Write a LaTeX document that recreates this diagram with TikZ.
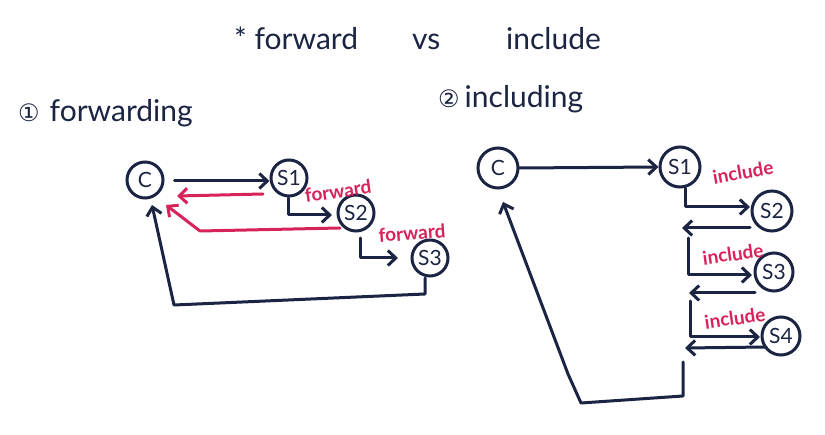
\documentclass[tikz,border=0pt]{standalone}
\usepackage{fontspec}
\setmainfont{Lato}
\newfontfamily\symfont{DejaVu Sans}
\usetikzlibrary{arrows.meta}
\definecolor{ink}{HTML}{1B2442}
\definecolor{pen}{HTML}{D8235A}
\tikzset{
  srv/.style={circle,draw=ink,line width=3pt,inner sep=0pt,minimum size=36pt,text=ink,font=\fontsize{21}{23}\selectfont},
  flow/.style={draw=ink,line width=3pt,line join=round,line cap=round,-{Straight Barb[length=8pt,width=15pt,line width=3pt]}},
  rflow/.style={flow,draw=pen},
  lbl/.style={text=pen,font=\fontsize{19}{21}\selectfont\bfseries,inner sep=0pt},
  hd/.style={text=ink,font=\fontsize{30}{33}\selectfont,inner sep=0pt,anchor=base west}
}
\begin{document}
\begin{tikzpicture}[x=1pt,y=-1pt]
\useasboundingbox[fill=white] (0,0) rectangle (825,435);
% titles
\node[hd] (title) at (234,50) {* forward\hspace{54pt}vs\hspace{66pt}include};
\node[hd] (h1) at (18,122) {{\symfont\fontsize{24}{26}\selectfont ①}\hspace{10pt}forwarding};
\node[hd] (h2) at (438,108) {{\symfont\fontsize{24}{26}\selectfont ②}\,including};
% left diagram
\node[srv] (c1) at (145,180) {C};
\node[srv] (a1) at (289,178) {S1};
\node[srv] (a2) at (356,213) {S2};
\node[srv] (a3) at (430,258) {S3};
\draw[flow] (c1.east) ++(10,1) coordinate (p1) -- (a1.west |- p1);
\draw[rflow] (263,194) coordinate (r1s) -- (177,196) coordinate (r1e);
\draw[flow] (288,198) coordinate (s1d) -- (288,215) -- (332,215);
\node[lbl,rotate=8] (f1) at (338,191) {forward};
\draw[rflow] (340,228) coordinate (r2s) -- (200,231) -- (166,205) coordinate (r2e);
\draw[flow] (360,238) coordinate (s2d) -- (360,258) -- (398,258);
\node[lbl,rotate=4] (f2) at (412,233) {forward};
\draw[flow] (425,278) coordinate (s3d) -- (425,294) -- (174,305) -- (152,205) coordinate (c1in);
% right diagram
\node[srv,minimum size=40pt] (c2) at (498,168) {C};
\node[srv,minimum size=40pt] (b1) at (680,167) {S1};
\node[srv,minimum size=40pt] (b2) at (772,211) {S2};
\node[srv,minimum size=38pt] (b3) at (774,272) {S3};
\node[srv,minimum size=38pt] (b4) at (781,336) {S4};
\draw[flow] (c2.east) -- (b1.west);
\draw[flow] (685,188) coordinate (t1) -- (685,207) -- (750,207);
\draw[flow] (750,228) coordinate (u1) -- (682,228);
\node[lbl,rotate=10] (i1) at (743,172) {include};
\draw[flow] (688,238) coordinate (t2) -- (688,275) -- (752,275);
\draw[flow] (755,293) coordinate (u2) -- (689,293);
\node[lbl,rotate=8] (i2) at (733,254) {include};
\draw[flow] (690,301) coordinate (t3) -- (690,337) -- (760,337);
\draw[flow] (766,347) coordinate (u3) -- (685,348);
\node[lbl,rotate=8] (i3) at (735,318) {include};
\draw[flow] (683,362) coordinate (t4) -- (683,396) -- (581,403) -- (568,374) -- (503,202) coordinate (c2in);
\end{tikzpicture}
\end{document}
